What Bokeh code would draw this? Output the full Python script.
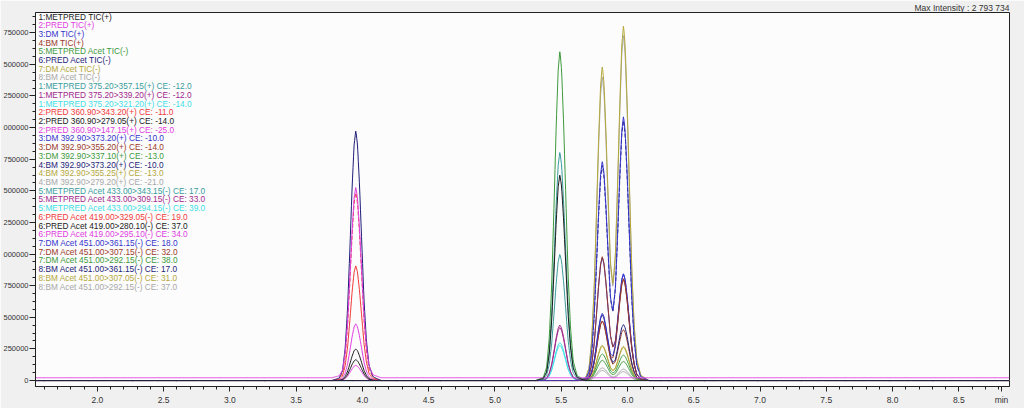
import numpy as np
from bokeh.plotting import figure
from bokeh.models import Range1d, FixedTicker, Label, Title, CustomJSTickFormatter
from bokeh.embed import file_html
from bokeh.resources import INLINE

# ---------------- data ----------------
TRACE_LABELS = [
    "1:METPRED TIC(+)", "2:PRED TIC(+)", "3:DM TIC(+)", "4:BM TIC(+)",
    "5:METPRED Acet TIC(-)", "6:PRED Acet TIC(-)", "7:DM Acet TIC(-)", "8:BM Acet TIC(-)",
    "1:METPRED 375.20>357.15(+) CE: -12.0", "1:METPRED 375.20>339.20(+) CE: -12.0",
    "1:METPRED 375.20>321.20(+) CE: -14.0", "2:PRED 360.90>343.20(+) CE: -11.0",
    "2:PRED 360.90>279.05(+) CE: -14.0", "2:PRED 360.90>147.15(+) CE: -25.0",
    "3:DM 392.90>373.20(+) CE: -10.0", "3:DM 392.90>355.20(+) CE: -14.0",
    "3:DM 392.90>337.10(+) CE: -13.0", "4:BM 392.90>373.20(+) CE: -10.0",
    "4:BM 392.90>355.25(+) CE: -13.0", "4:BM 392.90>279.20(+) CE: -21.0",
    "5:METPRED Acet 433.00>343.15(-) CE: 17.0", "5:METPRED Acet 433.00>309.15(-) CE: 33.0",
    "5:METPRED Acet 433.00>294.15(-) CE: 39.0", "6:PRED Acet 419.00>329.05(-) CE: 19.0",
    "6:PRED Acet 419.00>280.10(-) CE: 37.0", "6:PRED Acet 419.00>295.10(-) CE: 34.0",
    "7:DM Acet 451.00>361.15(-) CE: 18.0", "7:DM Acet 451.00>307.15(-) CE: 32.0",
    "7:DM Acet 451.00>292.15(-) CE: 38.0", "8:BM Acet 451.00>361.15(-) CE: 17.0",
    "8:BM Acet 451.00>307.05(-) CE: 31.0", "8:BM Acet 451.00>292.15(-) CE: 37.0",
]

# retention times (min) of the four peaks: PRED, METPRED, DM, BM
RT_PRED, RT_METPRED, RT_DM, RT_BM = 3.95, 5.49, 5.81, 5.97

# apex heights per trace (same order as TRACE_LABELS)
H_PRED = [0, 1510000, 0, 0, 0, 1980000, 0, 0,
          0, 0, 0, 910000, 165000, 450000,
          0, 0, 0, 0, 0, 0,
          0, 0, 0, 1490000, 250000, 120000,
          0, 0, 0, 0, 0, 0]
H_METPRED = [1630000, 0, 0, 0, 2610000, 0, 0, 0,
             1000000, 440000, 300000, 0, 0, 0,
             0, 0, 0, 0, 0, 0,
             1810000, 420000, 280000, 0, 0, 0,
             0, 0, 0, 0, 0, 0]
H_DM = [0, 0, 1730000, 980000, 0, 0, 2480000, 2400000,
        0, 0, 0, 0, 0, 0,
        530000, 470000, 210000, 520000, 280000, 100000,
        0, 0, 0, 0, 0, 0,
        970000, 470000, 160000, 1700000, 270000, 80000]
H_BM = [0, 0, 2080000, 800000, 0, 0, 2793734, 2720000,
        0, 0, 0, 0, 0, 0,
        840000, 800000, 200000, 440000, 270000, 90000,
        0, 0, 0, 0, 0, 0,
        840000, 400000, 150000, 2050000, 260000, 70000]
BASELINE = [0, 22000, 0, 0, 0, 0, 0, 0] + [0] * 24

# peak profile (offset in min, relative intensity)
PROFILE_DT = [-0.18, -0.125, -0.10, -0.08, -0.062, -0.045, -0.028, -0.013, 0.0,
              0.013, 0.028, 0.045, 0.062, 0.08, 0.10, 0.13, 0.19]
PROFILE_REL = [0.0, 0.01, 0.04, 0.13, 0.29, 0.52, 0.77, 0.94, 1.0,
               0.94, 0.78, 0.55, 0.32, 0.16, 0.06, 0.015, 0.0]

Y_TICKS = [0, 250000, 500000, 750000, 1000000, 1250000, 1500000, 1750000,
           2000000, 2250000, 2500000, 2750000]
X_TICKS = [2.0, 2.5, 3.0, 3.5, 4.0, 4.5, 5.0, 5.5, 6.0, 6.5, 7.0, 7.5, 8.0, 8.5]
X_UNIT_POS = 8.822   # where the "min" unit label sits
MAX_INTENSITY_TEXT = "Max Intensity : 2 793 734"

# ---------------- styles ----------------
PALETTE = ["#3a9c9c", "#a0288c", "#3ee0e6", "#f03a3a", "#1a1a1a", "#e03ce0",
           "#3434cc", "#9a3a2a", "#3c9a3c", "#1e1e78", "#b4a83c", "#a8a8a8"]
TRACE_COLORS = PALETTE[4:] + PALETTE + PALETTE
DASHED = {23, 29}

X0, X1 = 1.5331, 8.8825
Y0, Y1 = -47300, 2910000

p = figure(width=1024, height=408, output_backend="svg", toolbar_location=None,
           x_range=Range1d(X0, X1), y_range=Range1d(Y0, Y1),
           min_border_left=33, min_border_right=15, min_border_top=10, min_border_bottom=22)
p.background_fill_color = "#fcfcfc"
p.border_fill_color = "#f0f0f0"
p.outline_line_color = "#222222"
p.grid.visible = False

p.title = Title(text=MAX_INTENSITY_TEXT, align="right", text_font="Liberation Sans",
                text_font_size="8.5px", text_font_style="normal", text_color="#333333",
                standoff=0, offset=0)

t = np.arange(X0, X1, 0.004)
dt = np.array(PROFILE_DT)
rel = np.array(PROFILE_REL)
for i in reversed(range(len(TRACE_LABELS))):
    y = np.full_like(t, float(BASELINE[i]))
    for rt, h in ((RT_PRED, H_PRED[i]), (RT_METPRED, H_METPRED[i]), (RT_DM, H_DM[i]), (RT_BM, H_BM[i])):
        if h:
            y += h * np.interp(t - rt, dt, rel, left=0, right=0)
    p.line(t, y, line_color=TRACE_COLORS[i], line_width=1,
           line_dash="4 2" if i in DASHED else "solid")

xminor = [round(1.6 + 0.1 * k, 2) for k in range(73)]
p.xaxis.ticker = FixedTicker(ticks=X_TICKS + [X_UNIT_POS], minor_ticks=xminor)
p.xaxis.formatter = CustomJSTickFormatter(
    code="return tick > %f ? 'min' : tick.toFixed(1);" % (X_UNIT_POS - 0.01))
yminor = [62500 * k for k in range(47)]
p.yaxis.ticker = FixedTicker(ticks=Y_TICKS, minor_ticks=yminor)
# the window cuts the leading digit of the 7-digit labels: show what is visible
p.yaxis.formatter = CustomJSTickFormatter(code="return String(tick).slice(-6);")
for ax in (p.xaxis, p.yaxis):
    ax.axis_line_color = "#222222"
    ax.major_tick_line_color = "#222222"
    ax.minor_tick_line_color = "#222222"
    ax.major_tick_in = 0
    ax.minor_tick_in = 0
    ax.minor_tick_out = 3
    ax.major_label_text_font = "Liberation Sans"
    ax.major_label_text_color = "#333333"
p.xaxis.major_label_text_font_size = "8.5px"
p.yaxis.major_label_text_font_size = "7.5px"
p.xaxis.major_tick_out = 5
p.xaxis.major_label_standoff = 3
p.yaxis.major_tick_out = 6
p.yaxis.major_label_standoff = 1

n = len(TRACE_LABELS)
for k in range(n):
    p.add_layout(Label(x=X0, y=Y1, x_offset=3, y_offset=-(4.0 + k * 8.71), text=TRACE_LABELS[k],
                       text_color=TRACE_COLORS[k], text_font="Liberation Sans",
                       text_font_size="8.3px", text_baseline="middle"))

open("out.html", "w").write(file_html(p, INLINE))
